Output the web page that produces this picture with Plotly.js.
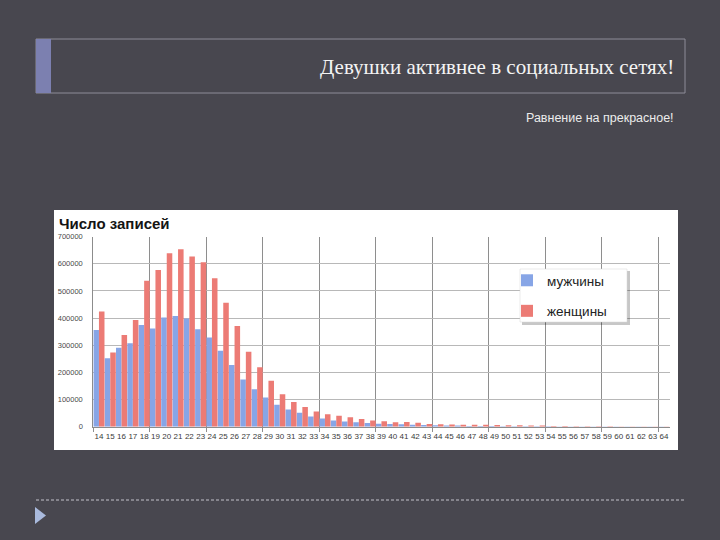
<!DOCTYPE html>
<html>
<head>
<meta charset="utf-8">
<script src="https://cdn.plot.ly/plotly-3.0.1.min.js"></script>
<style>html,body{margin:0;padding:0;background:#47464f;}#chart{width:720px;height:540px;}</style>
</head>
<body>
<div id="chart"></div>
<script>
// ---- data ----
const ages = [14,15,16,17,18,19,20,21,22,23,24,25,26,27,28,29,30,31,32,33,34,35,36,37,38,39,40,41,42,43,44,45,46,47,48,49,50,51,52,53,54,55,56,57,58,59,60,61,62,63,64];
const ageLabels = ages.map(String);
const men = [356000,252000,291000,307000,375000,362000,402000,408000,399000,359000,329000,280000,227000,174000,138000,108000,81000,63000,51000,38000,30000,23000,19000,16000,14000,11000,10000,9000,7000,6000,5000,4000,4000,3000,3000,2500,2000,2000,1800,1500,1200,1000,900,800,700,600,500,400,400,300,300];
const women = [424000,273000,338000,393000,538000,577000,639000,654000,627000,606000,547000,457000,371000,276000,219000,169000,120000,91000,73000,56000,46000,40000,35000,28000,23000,20000,16000,17000,15000,10000,9000,8000,7000,7000,7000,6000,5000,5000,4000,4000,3000,2500,2000,2000,1500,1200,1000,800,700,600,500];
const seriesNames = ['мужчины','женщины'];
const yTicks = [0,100000,200000,300000,400000,500000,600000,700000];
const slideTitle = 'Девушки активнее в социальных сетях!';
const slideSubtitle = 'Равнение на прекрасное!';
const chartTitle = 'Число записей';

// ---- helpers (pixel -> paper) ----
const W = 720, H = 540;
const px = v => v / W;
const py = v => 1 - v / H;

const traces = [
  {type:'bar', x: ages, y: men, name: seriesNames[0], legendgroup:'m',
   marker:{color:'#87a5e6', line:{width:0}}},
  {type:'bar', x: ages, y: women, name: seriesNames[1], legendgroup:'w',
   marker:{color:'#ec7b75', line:{width:0}}}
];

const tri = `M${px(35)},${py(507)} L${px(46)},${py(515.5)} L${px(35)},${py(524)} Z`;

const layout = {
  width: W, height: H,
  margin:{l:0,r:0,t:0,b:0,pad:0},
  paper_bgcolor:'#48474f',
  plot_bgcolor:'#ffffff',
  barmode:'group', bargap:0.02, bargroupgap:0,
  showlegend:true,
  font:{family:'Liberation Sans, sans-serif', color:'#333'},
  xaxis:{
    domain:[px(93.3), px(669.6)], range:[13.5,64.5], type:'linear',
    tickmode:'array', tickvals: ages, ticktext: ageLabels, tickangle:0,
    tickfont:{size:8, color:'#3a3a3a', family:'Liberation Sans Narrow, Liberation Sans, sans-serif'},
    ticks:'', showgrid:false, zeroline:false,
    showline:true, linecolor:'#8c8c8c', linewidth:1, ticklabelstandoff:2,
    minor:{tickmode:'linear', tick0:13.5, dtick:5, showgrid:true, gridcolor:'#8e8e8e', gridwidth:1,
           ticks:'outside', ticklen:4, tickcolor:'#8e8e8e'},
    fixedrange:true
  },
  yaxis:{
    domain:[py(426.7), py(236.7)], range:[0,700000],
    tickmode:'array', tickvals: yTicks, ticktext: yTicks.map(String),
    tickfont:{size:7.5, color:'#4a4a4a'},
    showgrid:true, gridcolor:'#b8b8b8', gridwidth:1, zeroline:false,
    showline:true, linecolor:'#8c8c8c', ticks:'', ticklabelstandoff:8,
    fixedrange:true
  },
  legend:{
    x: px(507), y: py(265), xanchor:'left', yanchor:'top',
    bgcolor:'rgba(0,0,0,0)', borderwidth:0,
    font:{size:13.5, color:'#222', family:'Liberation Sans, sans-serif'},
    traceorder:'grouped', tracegroupgap:10
  },
  shapes:[
    // chart picture background
    {type:'rect', xref:'paper', yref:'paper', x0:px(54), x1:px(678), y0:py(450), y1:py(210),
     fillcolor:'#ffffff', line:{width:0}, layer:'below'},
    // title box
    {type:'rect', xref:'paper', yref:'paper', x0:px(36), x1:px(685), y0:py(93), y1:py(39),
     fillcolor:'rgba(0,0,0,0)', line:{color:'#8d8d99', width:1}, layer:'above'},
    {type:'rect', xref:'paper', yref:'paper', x0:px(36), x1:px(51), y0:py(93), y1:py(39),
     fillcolor:'#7c80b0', line:{width:0}, layer:'above'},
    // legend box shadow and box
    {type:'rect', xref:'paper', yref:'paper', x0:px(522), x1:px(630), y0:py(325), y1:py(271),
     fillcolor:'rgba(0,0,0,0.22)', line:{width:0}, layer:'above'},
    {type:'rect', xref:'paper', yref:'paper', x0:px(520), x1:px(627), y0:py(322), y1:py(269),
     fillcolor:'#ffffff', line:{color:'#d6d6d6', width:0.5}, layer:'above'},
    // bottom dashed rule
    {type:'line', xref:'paper', yref:'paper', x0:px(36), x1:px(685), y0:py(500), y1:py(500),
     line:{color:'#c3c3cc', width:1, dash:'3px,2px'}, layer:'above'},
    // bullet triangle
    {type:'path', xref:'paper', yref:'paper', path: tri, fillcolor:'#a9badd', line:{width:0}, layer:'above'}
  ],
  annotations:[
    {xref:'paper', yref:'paper', x:px(676), y:py(67), xanchor:'right', yanchor:'middle', showarrow:false,
     text: slideTitle, font:{family:'Liberation Serif, serif', size:21, color:'#f4f4f4'}},
    {xref:'paper', yref:'paper', x:px(676), y:py(118), xanchor:'right', yanchor:'middle', showarrow:false,
     text: slideSubtitle, font:{family:'Liberation Sans, sans-serif', size:12.5, color:'#ececec'}},
    {xref:'paper', yref:'paper', x:px(57), y:py(223), xanchor:'left', yanchor:'middle', showarrow:false,
     text: '<b>' + chartTitle + '</b>', font:{family:'Liberation Sans, sans-serif', size:15, color:'#141414'}}
  ]
};

Plotly.newPlot('chart', traces, layout, {displayModeBar:false, staticPlot:true});
</script>
</body>
</html>
